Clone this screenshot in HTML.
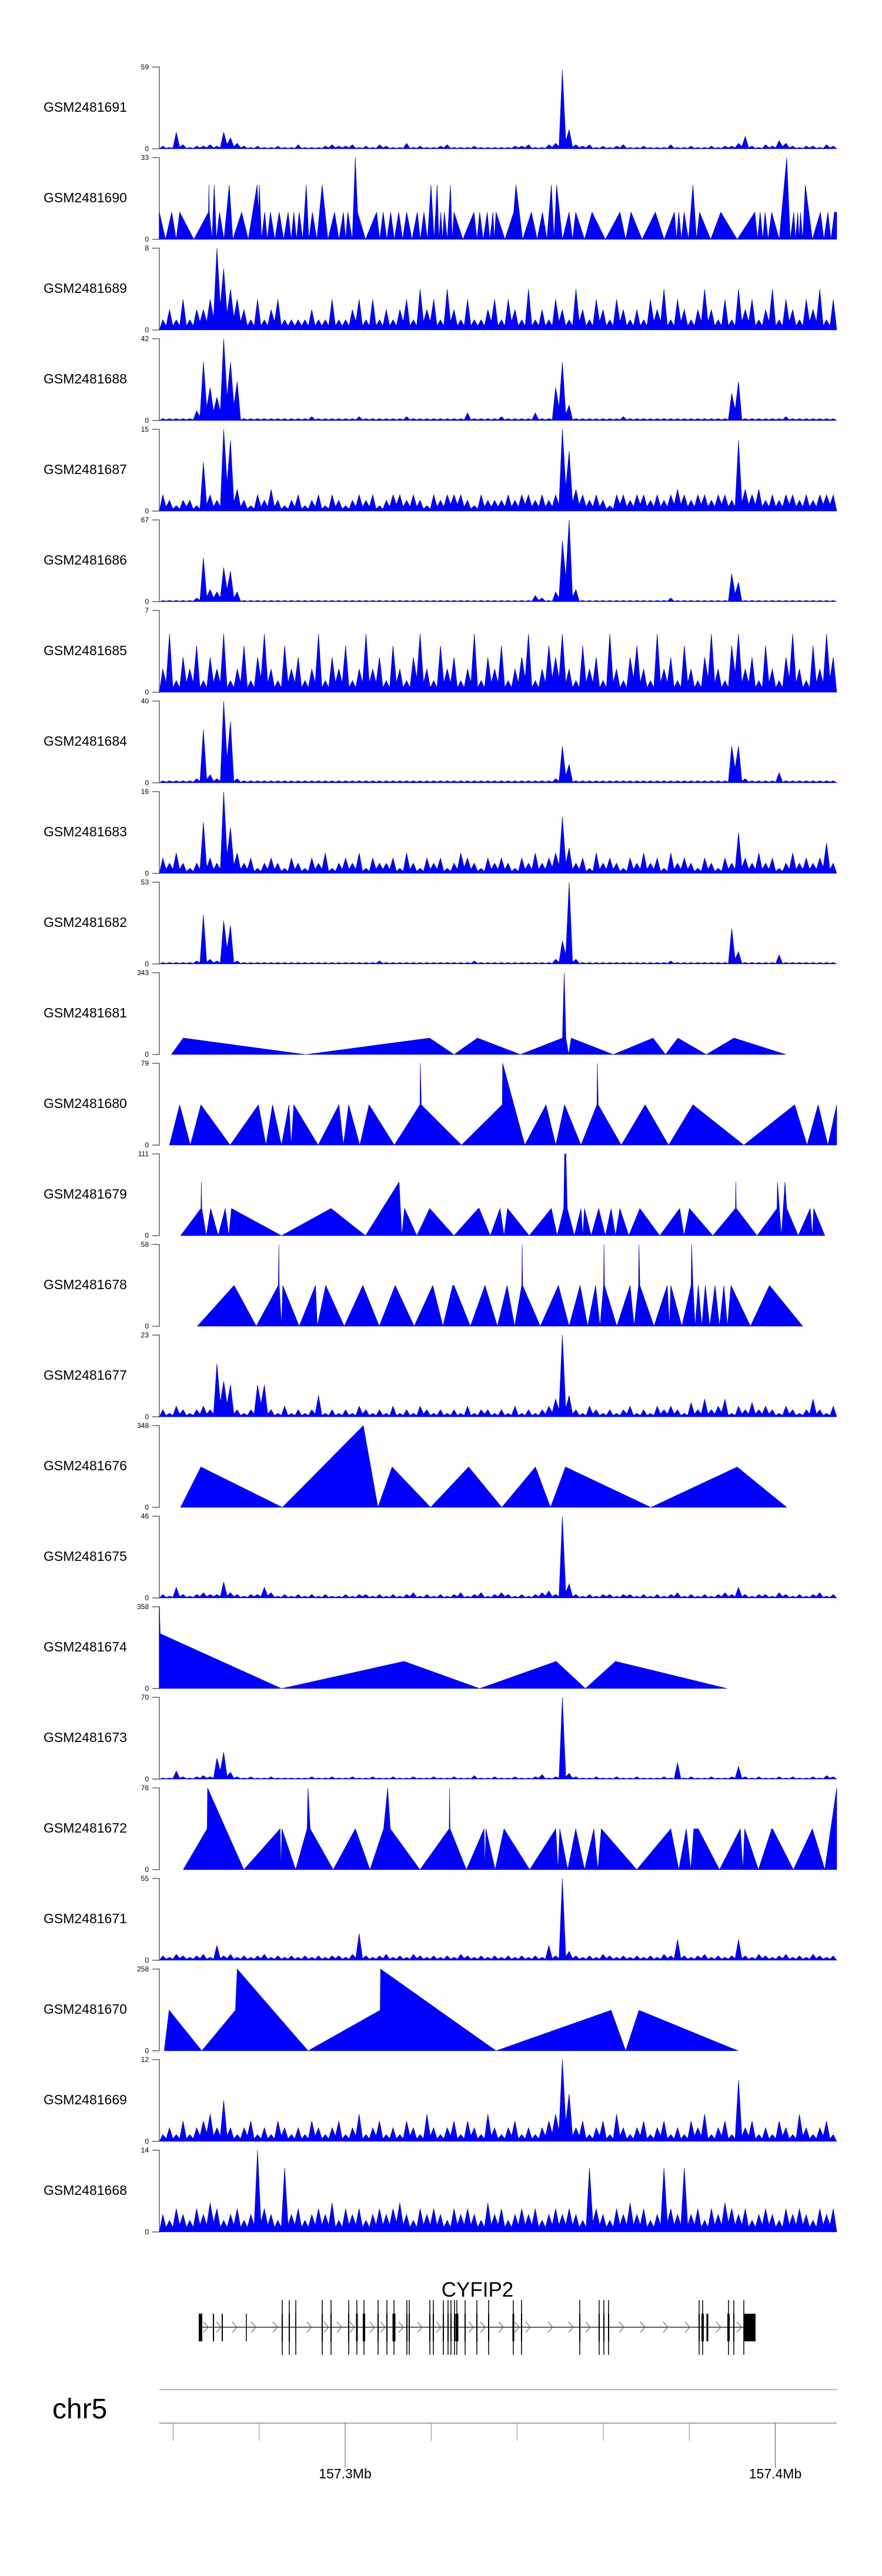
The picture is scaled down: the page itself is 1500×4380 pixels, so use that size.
<!DOCTYPE html>
<html><head><meta charset="utf-8"><title>CYFIP2 coverage tracks</title>
<style>
html,body{margin:0;padding:0;background:#fff;}
svg{display:block;font-family:"Liberation Sans",sans-serif;}
</style></head>
<body>
<svg id="chart" width="1500" height="4380" viewBox="0 0 1500 4380" xmlns="http://www.w3.org/2000/svg">
<rect x="0" y="0" width="1500" height="4380" fill="#fff"/>
</svg>
<script>
// ---------- data ----------
const sampleNames = ["GSM2481691","GSM2481690","GSM2481689","GSM2481688","GSM2481687","GSM2481686","GSM2481685","GSM2481684","GSM2481683","GSM2481682","GSM2481681","GSM2481680","GSM2481679","GSM2481678","GSM2481677","GSM2481676","GSM2481675","GSM2481674","GSM2481673","GSM2481672","GSM2481671","GSM2481670","GSM2481669","GSM2481668"];
const yMaxValues = [59,33,8,42,15,67,7,40,16,53,343,79,111,58,23,348,46,358,70,76,55,258,12,14];

// dense coverage tracks: 100 equal bins across the region
const bins1691 = [2,1,12,3,1,2,2,3,2,12, 8,4,2,1,2,1,1,2,1,1, 3,1,1,1,2,3,2,2,3,1, 2,1,3,2,1,1,4,1,2,1, 1,2,3,1,1,1,2,1,1,1, 1,1,2,2,3,1,1,3,4,57, 14,3,2,3,1,2,1,2,3,1, 1,2,1,1,1,3,1,1,2,1, 1,2,1,2,2,4,9,2,1,3, 2,6,4,2,1,2,2,1,3,2];
const bins1689 = [1,2,1,3,1,2,2,3,8,6, 4,3,2,1,3,1,2,3,1,1, 1,1,2,1,1,3,1,1,2,3, 1,3,1,2,1,2,3,1,4,2, 3,1,4,2,1,3,1,1,2,3, 1,3,2,1,4,1,2,1,3,2, 1,4,2,1,3,2,1,3,2,1, 2,1,3,2,4,1,3,2,1,2, 4,2,1,3,1,4,2,3,1,2, 4,1,3,2,1,3,2,4,1,3];
const bins1688 = [1,1,1,1,1,5,30,17,12,42, 30,20,1,1,1,1,1,1,1,1, 1,1,2,1,1,1,1,1,1,2, 1,1,1,1,1,1,2,1,1,1, 1,1,1,1,1,4,1,1,1,1, 2,1,1,1,1,4,1,1,17,30, 8,1,1,1,1,1,1,1,2,1, 1,1,1,1,1,1,1,1,1,1, 1,1,1,1,14,20,1,1,1,1, 1,1,2,1,1,1,1,1,1,1];
const bins1687 = [3,2,1,2,2,1,9,3,2,15, 13,4,2,1,3,2,4,2,1,2, 3,1,2,3,1,3,2,1,2,3, 2,3,1,2,3,3,2,3,2,1, 3,2,3,3,3,2,1,3,2,2, 2,3,2,3,3,2,3,2,3,15, 11,4,3,2,3,2,1,3,3,2, 3,3,2,3,2,3,4,3,2,3, 3,2,3,3,2,13,4,3,4,2, 3,2,3,3,2,3,2,3,3,3];
const bins1686 = [1,1,1,1,1,3,36,10,8,28, 25,8,1,1,1,1,1,1,1,1, 1,1,1,1,1,1,1,1,1,1, 1,1,1,1,1,1,1,1,1,1, 1,1,1,1,1,1,1,1,1,1, 1,1,1,1,1,5,3,1,8,50, 67,10,1,1,1,1,1,1,1,1, 1,1,1,1,1,3,1,1,1,1, 1,1,1,1,23,16,1,1,1,1, 1,1,1,1,1,1,1,1,1,1];
const bins1685 = [2,5,1,3,2,4,1,3,2,5, 1,2,4,1,3,5,2,1,4,2, 3,1,2,5,1,3,2,4,1,2, 5,2,3,1,4,2,1,3,5,2, 1,4,2,3,1,2,5,1,3,2, 4,1,2,3,5,1,2,4,3,5, 2,1,4,2,3,1,5,2,1,3, 4,2,1,5,2,3,1,4,2,1, 3,5,2,1,4,5,2,3,1,4, 2,1,3,5,2,1,4,2,5,3];
const bins1684 = [1,1,1,1,1,2,26,4,2,40, 30,2,1,1,1,1,1,1,1,1, 1,1,1,1,1,1,1,1,1,1, 1,1,1,1,1,1,1,1,1,1, 1,1,1,1,1,1,1,1,1,1, 1,1,1,1,1,1,1,1,2,18, 9,1,1,1,1,1,1,1,1,1, 1,1,1,1,1,1,1,1,1,1, 1,1,1,1,18,18,2,1,1,1, 1,5,1,1,1,1,1,1,1,1];
const bins1683 = [3,2,4,2,1,2,10,3,2,16, 9,4,2,3,1,2,3,2,1,3, 2,1,3,2,4,1,2,3,2,4, 1,3,2,2,3,1,4,2,1,3, 2,3,1,2,4,3,2,1,3,2, 3,2,1,3,2,4,2,3,4,11, 5,2,3,1,4,2,3,2,1,3, 2,4,2,3,1,4,2,3,2,1, 3,2,1,3,2,8,3,2,4,2, 3,1,2,4,2,3,2,3,6,2];
const bins1682 = [1,1,1,1,1,2,32,3,2,28, 25,2,1,1,1,1,1,1,1,1, 1,1,1,1,1,1,1,1,1,1, 1,1,2,1,1,1,1,1,1,1, 1,1,1,1,1,1,2,1,1,1, 1,1,1,1,1,1,1,1,3,15, 53,3,1,1,1,1,1,1,1,1, 1,1,1,1,1,2,1,1,1,1, 1,1,1,1,23,8,1,1,1,1, 1,6,1,1,1,1,1,1,1,1];
const bins1677 = [2,1,3,2,1,2,3,2,15,10, 9,2,1,2,9,9,2,1,3,1, 2,1,2,6,1,2,1,2,1,3, 2,1,2,1,3,1,2,1,3,2, 1,2,1,2,1,3,1,2,2,1, 2,1,3,1,2,1,2,3,5,23, 6,2,1,3,2,1,2,1,2,3, 1,2,1,3,2,3,2,1,4,2, 5,2,3,5,1,3,2,4,2,3, 2,1,3,2,1,2,5,2,1,3];
const bins1675 = [2,1,6,2,1,2,3,2,2,9, 3,2,1,2,2,6,3,1,2,1, 2,1,2,1,2,1,1,2,1,2, 2,1,2,1,2,1,2,3,1,2, 1,2,1,2,3,1,2,3,1,2, 3,2,1,2,1,2,3,4,2,46, 8,2,1,2,1,2,2,1,2,2, 1,2,1,2,1,2,3,1,2,1, 2,1,2,3,2,6,2,1,2,2, 1,3,2,1,2,1,2,3,1,2];
const bins1673 = [1,1,7,2,1,2,3,2,18,23, 6,2,1,2,1,1,2,1,1,1, 1,1,2,1,1,2,1,1,2,1, 1,2,1,1,2,1,1,2,1,1, 2,1,1,2,1,1,3,1,1,2, 1,1,2,1,1,2,4,1,2,70, 5,2,1,1,2,1,1,2,1,1, 2,1,1,1,2,1,14,1,2,1, 1,2,1,1,2,11,2,1,2,1, 1,2,1,2,1,1,2,1,3,2];
const bins1671 = [3,2,4,3,2,3,4,2,10,3, 4,2,3,2,3,4,2,3,2,3, 2,3,2,3,2,3,3,2,4,18, 3,2,3,4,2,3,2,4,3,2, 3,2,3,2,4,3,2,3,2,3, 2,3,2,3,2,3,2,10,3,55, 6,3,2,3,2,4,3,2,3,2, 3,2,3,2,4,3,14,3,2,3, 4,2,3,2,3,14,3,2,4,3, 2,3,4,2,3,2,4,3,2,3];
const bins1669 = [1,2,1,3,1,2,3,4,2,6, 2,1,2,3,1,2,1,3,2,1, 2,1,3,2,1,2,3,1,2,4, 1,2,3,1,2,1,3,2,1,4, 2,1,2,3,1,3,2,1,4,2, 1,2,3,1,2,1,2,3,4,12, 7,2,3,1,2,3,1,4,2,1, 2,3,1,2,3,1,2,1,3,2, 4,1,2,3,1,9,2,3,1,2, 1,3,2,1,4,2,1,2,3,1];
const bins1668 = [3,2,4,3,2,4,3,5,4,2, 3,4,2,3,14,4,3,2,11,3, 4,2,3,4,3,5,2,4,3,4, 2,3,4,3,4,5,3,2,4,3, 4,3,2,4,3,4,3,2,5,3, 4,2,3,4,3,4,2,3,4,3, 4,3,2,11,4,3,2,4,3,5, 3,4,2,3,11,4,3,11,3,4, 2,4,3,5,4,3,4,2,3,4, 3,2,4,3,4,3,2,4,3,4];

// sparse tracks: vertex positions (relative units 14..1545) and values
const pos1690 = [14,28,42,52,60,92,125,126,127,133, 138,143,150,160,172,180,200,215,235,238, 240,245,252,258,265,275,285,295,305,312, 318,324,330,338,346,352,360,370,382,395, 410,420,430,435,440,450,457,462,480,505, 512,520,528,537,545,555,564,573,585,597, 604,612,620,628,635,642,646,650,654,658, 665,672,676,680,700,725,732,738,746,755, 761,768,771,775,795,815,820,835,855,868, 880,890,900,906,912,925,940,948,955,975, 992,1022,1055,1068,1080,1105,1135,1155,1178,1183, 1188,1194,1200,1210,1220,1228,1235,1260,1283,1320, 1360,1366,1372,1378,1383,1390,1398,1415,1432,1440, 1448,1452,1457,1460,1463,1468,1474,1490,1508,1516, 1525,1532,1540,1545];
const val1690 = [11,0,11,0,11,0,11,22,11,0, 22,0,11,0,22,0,11,0,22,11, 22,0,11,0,11,0,11,0,11,0, 11,0,11,0,22,0,11,0,22,0, 11,0,11,0,11,0,33,11,0,11, 0,11,0,11,0,11,0,11,0,11, 0,11,0,22,0,22,0,11,0,11, 0,22,0,11,0,11,0,11,0,11, 0,11,0,11,0,11,22,0,11,0, 11,0,22,0,22,0,11,0,11,0, 11,0,11,0,11,0,11,0,11,0, 11,0,11,0,22,0,11,0,11,0, 11,0,11,0,11,0,11,0,33,0, 11,0,11,0,11,0,22,0,11,0, 11,0,11,11];
const pos1681 = [41,68,345,625,680,733,830,925,929,933,939,945,1040,1130,1158,1186,1250,1313,1430];
const val1681 = [0,69,0,69,0,69,0,69,343,69,0,69,0,69,0,69,0,69,0];
const pos1680 = [37,60,84,108,174,238,255,270,290,307, 312,318,373,420,430,442,467,488,545,603, 604,606,697,789,790,840,888,910,930,967, 1003,1004,1006,1058,1112,1165,1220,1335,1450,1478, 1503,1525,1545];
const val1680 = [0,39,0,39,0,39,0,39,0,39, 0,39,0,39,0,39,0,39,0,39, 79,39,0,39,79,0,39,0,39,0, 39,79,39,0,39,0,39,0,39,0, 39,0,39];
const pos1679 = [62,108,109,110,120,130,147,163,171,177, 290,402,480,556,562,568,596,625,680,735, 737,762,784,793,801,850,900,913,928,930, 933,936,952,967,971,975,990,1007,1022,1035, 1045,1055,1075,1100,1145,1190,1200,1212,1265,1316, 1317,1318,1365,1410,1411,1420,1428,1432,1458,1485, 1490,1493,1518];
const val1679 = [0,37,73,37,0,37,0,37,0,37, 0,37,0,73,0,37,0,37,0,37, 37,0,37,0,37,0,37,0,37,111, 111,37,0,37,0,37,0,37,0,37, 0,37,0,37,0,37,0,37,0,37, 73,37,0,37,73,0,73,37,0,37, 0,37,0];
const pos1678 = [100,183,233,283,284,285,290,293,330,367, 371,390,432,474,511,547,590,632,655,677, 680,717,750,778,800,817,833,834,835,875, 916,940,965,982,1000,1010,1018,1019,1020,1048, 1078,1087,1097,1098,1100,1132,1162,1167,1170,1195, 1216,1217,1220,1225,1232,1240,1248,1258,1270,1280, 1290,1298,1306,1350,1393,1468];
const val1678 = [0,29,0,29,58,29,0,29,0,29, 0,29,0,29,0,29,0,29,0,29, 29,0,29,0,29,0,29,58,29,0, 29,0,29,0,29,0,29,58,29,0, 29,0,29,58,29,0,29,0,29,0, 29,58,29,0,29,0,29,0,29,0, 29,0,29,0,29,0];
const pos1676 = [62,108,292,475,508,540,627,713,788,864,898,932,1125,1320,1432];
const val1676 = [0,172,0,348,0,172,0,172,0,172,0,172,0,172,0];
const pos1674 = [14,16,290,567,738,911,977,1045,1297];
const val1674 = [358,240,0,119,0,119,0,119,0];
const pos1672 = [68,122,123,205,287,289,291,322,348,350, 355,407,457,490,521,530,536,603,669,670, 671,708,748,750,752,773,793,851,910,915, 919,937,955,975,996,1005,1013,1093,1170,1188, 1205,1215,1222,1232,1280,1327,1333,1337,1368,1398, 1400,1447,1490,1518,1545];
const val1672 = [0,38,76,0,38,0,38,0,38,76, 38,0,38,0,38,76,38,0,38,76, 38,0,38,0,38,0,38,0,38,0, 38,0,38,0,38,0,38,0,38,0, 38,0,38,38,0,38,0,38,0,38, 38,0,38,0,76];
const pos1670 = [25,36,110,186,190,350,513,514,775,1035,1068,1098,1322];
const val1670 = [0,128,0,128,258,0,128,258,0,128,0,128,0];

// gene model CYFIP2 (x in Mb)
const exonStartsMb = [157.26637,157.26938,157.27143,157.27703,157.28537,157.28701,157.28852,157.29467,157.29672,157.30082,157.30273,157.30437,157.30766,157.30971,157.31135,157.31435,157.31490,157.31969,157.32050,157.32283,157.32392,157.32461,157.32543,157.32597,157.32789,157.33062,157.33336,157.33910,157.34101,157.35454,157.35905,157.36015,157.36124,157.38229,157.38311,157.38421,157.38913,157.39036,157.39268];
const exonTall = [0,0,0,0,1,1,1,1,1,1,1,1,1,1,1,1,1,1,1,1,1,1,1,1,1,1,1,1,1,1,1,1,1,1,1,0,1,1,1];
const exonBoxWidth = [6,2,2,1.5,2,2,1.5,2,2,2,3,4,2,2,5,2,2,2,2,2,2,2,2,5,2,2,2,3,2,2,2,2,2,2,4,3,4,2,20];
const chevronMb = [157.26760,157.27061,157.27430,157.27867,157.28373,157.29166,157.29563,157.29863,157.30164,157.30629,157.30875,157.31299,157.31736,157.32174,157.32925,157.33199,157.33623,157.33992,157.34251,157.34771,157.35249,157.35646,157.36425,157.36917,157.37450,157.37956,157.38680,157.39159];
const axisTicksMb = [157.26,157.28,157.30,157.32,157.34,157.36,157.38,157.40];
const axisLabelsMb = {"157.3":"157.3Mb","157.4":"157.4Mb"};

// ---------- layout ----------
const svg = document.getElementById('chart');
const NS = 'http://www.w3.org/2000/svg';
const X0 = 271, X1 = 1423, D0 = 14, D1 = 1545;
const TRACK_TOP = 114, TRACK_STEP = 154, TRACK_H = 139;
function xRel(p){ return X0 + (p - D0) / (D1 - D0) * (X1 - X0); }
function xMb(mb){ return 587 + (mb - 157.30) / 0.02 * 146.3; }
function el(tag, attrs, parent){
  const e = document.createElementNS(NS, tag);
  for (const k in attrs) e.setAttribute(k, attrs[k]);
  (parent || svg).appendChild(e);
  return e;
}

const trackBins = {"GSM2481691":bins1691,"GSM2481689":bins1689,"GSM2481688":bins1688,"GSM2481687":bins1687,"GSM2481686":bins1686,"GSM2481685":bins1685,"GSM2481684":bins1684,"GSM2481683":bins1683,"GSM2481682":bins1682,"GSM2481677":bins1677,"GSM2481675":bins1675,"GSM2481673":bins1673,"GSM2481671":bins1671,"GSM2481669":bins1669,"GSM2481668":bins1668};
const trackPos = {"GSM2481690":pos1690,"GSM2481681":pos1681,"GSM2481680":pos1680,"GSM2481679":pos1679,"GSM2481678":pos1678,"GSM2481676":pos1676,"GSM2481674":pos1674,"GSM2481672":pos1672,"GSM2481670":pos1670};
const trackVal = {"GSM2481690":val1690,"GSM2481681":val1681,"GSM2481680":val1680,"GSM2481679":val1679,"GSM2481678":val1678,"GSM2481676":val1676,"GSM2481674":val1674,"GSM2481672":val1672,"GSM2481670":val1670};

sampleNames.forEach(function(name, i){
  const top = TRACK_TOP + i * TRACK_STEP, base = top + TRACK_H, ymax = yMaxValues[i];
  const yS = function(v){ return base - Math.min(v, ymax) / ymax * TRACK_H; };
  const g = el('g', {});
  
  

  const lab = el('text', {x:74, y:top + 76, 'font-size':23, fill:'#000'}, g);
  lab.textContent = name;
  
  

  const ax = el('path', {d:'M259 '+top+' H271 V'+base+' H259', fill:'none', stroke:'#888', 'stroke-width':2}, g);
  
  
  const tMax = el('text', {x:253, y:top + 4, 'font-size':12, 'text-anchor':'end', fill:'#000'}, g);
  tMax.textContent = String(ymax);
  
  
  const tZero = el('text', {x:253, y:base + 4, 'font-size':12, 'text-anchor':'end', fill:'#000'}, g);
  tZero.textContent = '0';
  
  

  let pts = [];
  if (trackBins[name]) {
    const b = trackBins[name], w = (D1 - D0) / b.length;
    pts.push([xRel(D0), base]);
    b.forEach(function(v, k){
      pts.push([xRel(D0 + (k + 0.5) * w), yS(v)]);
      if (k < b.length - 1) pts.push([xRel(D0 + (k + 1) * w), yS(Math.min(v, b[k+1]) * 0.4)]);
    });
    pts.push([xRel(D1), base]);
  } else {
    const P = trackPos[name], V = trackVal[name];
    const n = Math.min(P.length, V.length);
    pts.push([xRel(P[0]), base]);
    for (let k = 0; k < n; k++) pts.push([xRel(P[k]), yS(V[k])]);
    pts.push([xRel(P[n-1]), base]);
  }
  const poly = el('polygon', {points: pts.map(function(p){return p[0].toFixed(1)+','+p[1].toFixed(1);}).join(' '), fill:'#0000ff', stroke:'#00008b', 'stroke-width':0.6, 'stroke-linejoin':'miter'}, g);
  
  
});

// ---------- gene model ----------
const gene = el('g', {});


const gl = el('text', {x:812, y:3905, 'font-size':35, 'text-anchor':'middle', fill:'#000'}, gene);
gl.textContent = 'CYFIP2';


const intron = el('line', {x1:xMb(exonStartsMb[0]), x2:xMb(exonStartsMb[exonStartsMb.length-1]), y1:3957, y2:3957, stroke:'#000', 'stroke-width':1.2}, gene);


chevronMb.forEach(function(mb){
  const cx = xMb(mb);
  const c = el('path', {d:'M'+(cx-4)+' 3948 L'+(cx+4)+' 3957 L'+(cx-4)+' 3966', fill:'none', stroke:'#555', 'stroke-width':1}, gene);
  
  
});
exonStartsMb.forEach(function(mb, k){
  const ex = xMb(mb);
  if (exonTall[k]) {
    const t = el('rect', {x:ex - 0.75, y:3911, width:1.5, height:93, fill:'#000'}, gene);
    
    
  }
  const w = exonBoxWidth[k];
  const bx = el('rect', {x: w > 10 ? ex : ex - w/2, y:3934, width:w, height:47, fill:'#000'}, gene);
  
  
});

// ---------- genome axis ----------
const axis = el('g', {});


const chr = el('text', {x:89, y:4112, 'font-size':48, fill:'#000'}, axis);
chr.textContent = 'chr5';


const l1 = el('line', {x1:X0, x2:X1, y1:4063, y2:4063, stroke:'#999', 'stroke-width':1.5}, axis);


const l2 = el('line', {x1:X0, x2:X1, y1:4120, y2:4120, stroke:'#888', 'stroke-width':1.5}, axis);


axisTicksMb.forEach(function(mb){
  const tx = xMb(mb);
  const key = String(Math.round(mb * 100) / 100);
  const major = axisLabelsMb[key] !== undefined;
  const t = el('line', {x1:tx, x2:tx, y1:4120, y2: major ? 4196 : 4150, stroke: major ? '#555' : '#888', 'stroke-width':1}, axis);
  
  
  if (major) {
    const lt = el('text', {x:tx, y:4214, 'font-size':23, 'text-anchor':'middle', fill:'#000'}, axis);
    lt.textContent = axisLabelsMb[key];
    
    
  }
});
</script>
</body></html>
